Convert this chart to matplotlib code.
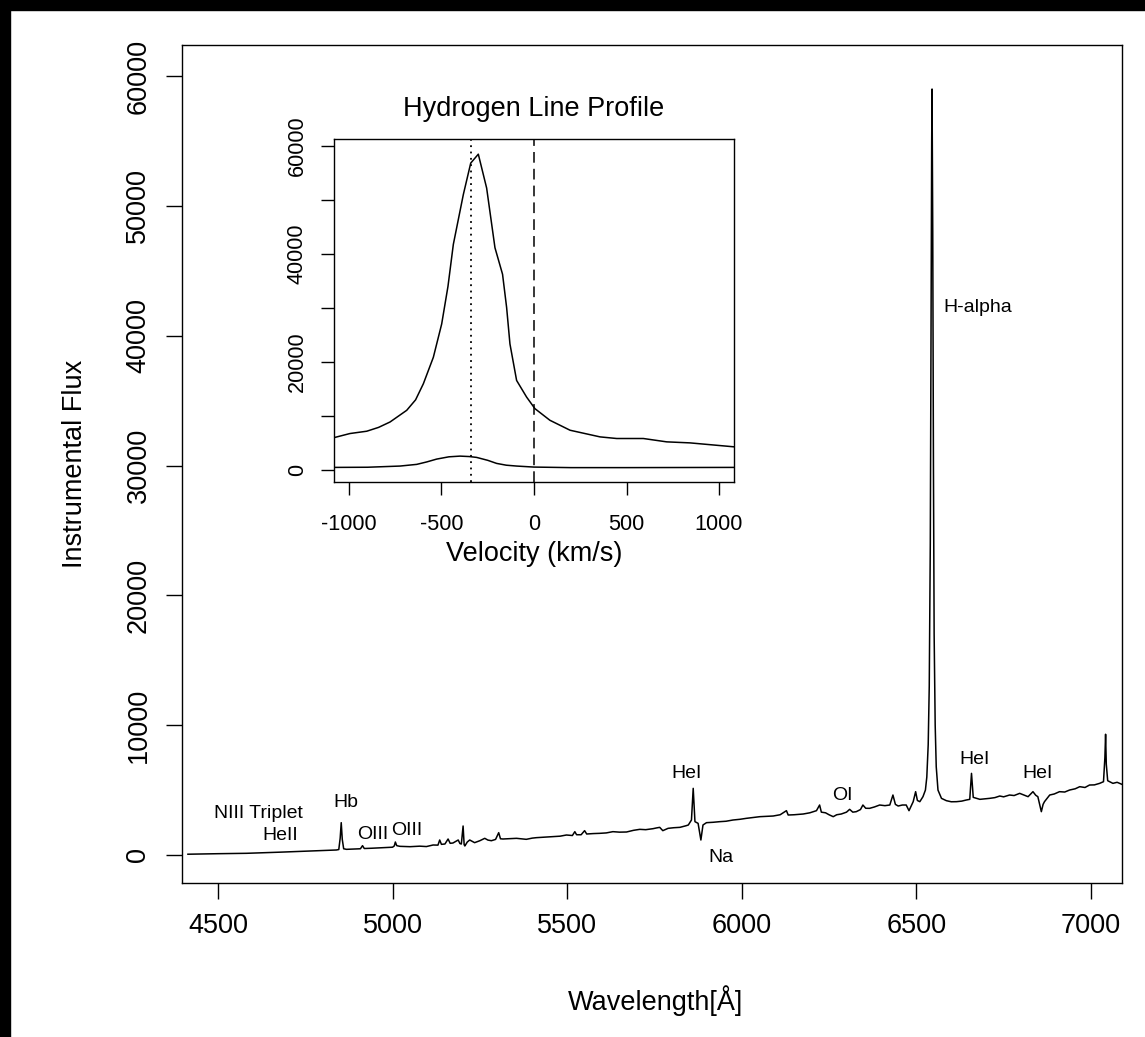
import matplotlib
matplotlib.use("Agg")
import matplotlib.pyplot as plt
from matplotlib.patches import Rectangle

plt.rcParams['font.family'] = ['Liberation Sans', 'DejaVu Sans']
plt.rcParams['axes.unicode_minus'] = False

######################### DATOS #########################

# espectro principal (longitud de onda en A, flujo instrumental)
wave = [4414, 4450, 4500, 4550, 4582, 4630, 4680, 4730, 4773, 4810,
        4839, 4846, 4850, 4853, 4856, 4860, 4868, 4890, 4908, 4914,
        4919, 4940, 4970, 5000, 5005, 5008, 5012, 5021, 5050, 5078,
        5097, 5116, 5130, 5135, 5140, 5150, 5159, 5165, 5173, 5188,
        5193, 5197, 5202, 5205, 5207, 5214, 5221, 5235, 5250, 5264,
        5273, 5283, 5295, 5304, 5309, 5316, 5335, 5355, 5383, 5400,
        5412, 5440, 5460, 5480, 5498, 5515, 5522, 5527, 5540, 5550,
        5556, 5575, 5593, 5612, 5631, 5650, 5670, 5690, 5708, 5725,
        5746, 5755, 5765, 5774, 5789, 5805, 5823, 5840, 5847, 5856,
        5861, 5866, 5875, 5883, 5889, 5899, 5918, 5937, 5955, 5975,
        5995, 6013, 6030, 6052, 6070, 6090, 6110, 6128, 6133, 6150,
        6176, 6195, 6214, 6223, 6228, 6240, 6250, 6262, 6272, 6285,
        6300, 6309, 6318, 6328, 6340, 6347, 6355, 6366, 6380, 6395,
        6410, 6424, 6433, 6440, 6448, 6460, 6471, 6479, 6491, 6498,
        6503, 6510, 6519, 6526, 6530, 6534, 6537, 6540, 6542, 6544,
        6545, 6547, 6549, 6551, 6554, 6557, 6562, 6572, 6586, 6600,
        6615, 6630, 6643, 6653, 6658, 6663, 6682, 6695, 6710, 6725,
        6739, 6750, 6767, 6780, 6796, 6810, 6820, 6834, 6842, 6848,
        6853, 6858, 6863, 6867, 6882, 6895, 6910, 6925, 6939, 6955,
        6968, 6983, 6996, 7010, 7025, 7036, 7040, 7042, 7044, 7048,
        7063, 7075, 7089]
flux = [60, 80, 100, 120, 130, 170, 220, 270, 310, 350,
        385, 420, 1300, 2490, 1200, 480, 436, 460, 480, 719,
        500, 520, 560, 600, 700, 1001, 720, 667, 640, 680,
        650, 770, 760, 1155, 820, 847, 1232, 900, 924, 1155,
        880, 847, 2233, 800, 693, 1000, 1155, 950, 1100, 1284,
        1150, 1100, 1200, 1720, 1250, 1232, 1260, 1284, 1207, 1300,
        1335, 1380, 1412, 1450, 1540, 1500, 1797, 1560, 1560, 1874,
        1617, 1650, 1668, 1700, 1797, 1760, 1771, 1900, 1976, 1950,
        2027, 2080, 2130, 1874, 2053, 2100, 2130, 2250, 2310, 2695,
        5133, 2567, 2438, 1155, 2310, 2490, 2520, 2567, 2600, 2695,
        2750, 2823, 2880, 2952, 2980, 3003, 3100, 3414, 3080, 3100,
        3157, 3250, 3414, 3850, 3300, 3250, 3100, 2952, 3100, 3157,
        3300, 3516, 3300, 3337, 3500, 3850, 3600, 3593, 3700, 3850,
        3800, 3850, 4620, 3900, 3773, 3850, 3850, 3414, 4107, 4877,
        4200, 4107, 4492, 5000, 6000, 8500, 13000, 24000, 40000, 55000,
        59000, 48000, 30000, 17000, 10000, 6800, 5000, 4363, 4184, 4100,
        4107, 4150, 4235, 4287, 6287, 4440, 4287, 4320, 4363, 4420,
        4543, 4480, 4620, 4580, 4748, 4600, 4492, 4877, 4600, 4492,
        3900, 3337, 3900, 4107, 4620, 4700, 4877, 4850, 5005, 5100,
        5262, 5200, 5390, 5400, 5518, 5646, 7500, 9300, 7000, 5723,
        5518, 5600, 5440]

# etiquetas de lineas
line_names = ['NIII Triplet', 'HeII', 'Hb', 'OIII', 'OIII', 'HeI', 'Na',
              'OI', 'H-alpha', 'HeI', 'HeI']
line_x = [4617, 4677, 4866, 4944, 5041, 5843, 5940, 6289, 6676, 6667, 6848]
line_y = [3234, 1540, 4080, 1617, 1925, 6314, -231, 4620, 42200, 7390, 6314]

# perfil de H-alpha en velocidad (km/s)
vel_hi = [-1081, -995, -904, -840, -778, -688, -640, -598, -544, -499,
          -465, -436, -382, -342, -301, -256, -211, -170, -148, -130,
          -94, -40, 5, 86, 195, 357, 447, 591, 717, 843, 1081]
prof_hi = [6000, 6760, 7190, 7900, 8900, 11060, 13000, 15980, 20880, 27040,
           34000, 41780, 51000, 56830, 58480, 52210, 41160, 36250, 30100, 23350,
           16590, 13510, 11370, 9215, 7370, 6140, 5840, 5840, 5220, 5030, 4300]
vel_lo = [-1081, -900, -724, -634, -580, -526, -460, -400, -350, -310,
          -250, -202, -150, -94, 0, 200, 500, 1081]
prof_lo = [490, 520, 740, 1050, 1500, 2030, 2450, 2580, 2500, 2340,
           1800, 1230, 900, 740, 550, 450, 450, 490]

v_peak = -341   # linea punteada
v_rest = 0      # linea discontinua

######################### FIGURA #########################

W, H = 1145, 1037
fig = plt.figure(figsize=(W / 100, H / 100), dpi=100)

# borde negro (captura de pantalla)
fig.patches.append(Rectangle((0, 1 - 10 / H), 1, 10 / H, transform=fig.transFigure,
                             color='black', zorder=10))
fig.patches.append(Rectangle((0, 0), 10 / W, 1, transform=fig.transFigure,
                             color='black', zorder=10))

ax = fig.add_axes([182 / W, 1 - 883 / H, 940 / W, 838 / H])
ax.plot(wave, flux, color='black', lw=1.1)
ax.set_xlim(4397, 7089)
ax.set_ylim(-2157, 62390)
ax.set_xticks([4500, 5000, 5500, 6000, 6500, 7000])
ax.set_yticks(range(0, 60001, 10000))
ax.tick_params(axis='x', length=11.5, width=1, pad=10, labelsize=19.5)
ax.tick_params(axis='y', length=11.5, width=1, pad=10.5, labelsize=19.5,
               labelrotation=90)
for lbl in ax.get_yticklabels():
    lbl.set_va('center')
for s in ax.spines.values():
    s.set_linewidth(1)

for name, x, y in zip(line_names, line_x, line_y):
    ax.text(x, y, name, ha='center', va='center', fontsize=14)

fig.text(655 / W, 1 - 1010 / H, 'Wavelength[Å]', ha='center', va='baseline',
         fontsize=19.5)
fig.text(75 / W, 1 - 464 / H, 'Instrumental Flux', ha='center', va='center',
         rotation=90, fontsize=19.5)

# recuadro
ins = fig.add_axes([334 / W, 1 - 482 / H, 400 / W, 343 / H])
ins.plot(vel_hi, prof_hi, color='black', lw=1.1)
ins.plot(vel_lo, prof_lo, color='black', lw=1.1)
ins.axvline(v_peak, color='black', lw=1.3, linestyle=(0, (1, 2.5)))
ins.axvline(v_rest, color='black', lw=1.1, linestyle=(0, (7, 4)))
ins.set_xlim(-1081, 1081)
ins.set_ylim(-2212, 61290)
ins.set_xticks([-1000, -500, 0, 500, 1000])
ins.set_yticks(range(0, 60001, 10000))
ins.set_yticklabels(['0', '', '20000', '', '40000', '', '60000'])
ins.tick_params(axis='x', length=9.4, width=1, pad=13.5, labelsize=15.6)
ins.tick_params(axis='y', length=9.4, width=1, pad=9.5, labelsize=15.6,
                labelrotation=90)
for lbl in ins.get_yticklabels():
    lbl.set_va('center')
for s in ins.spines.values():
    s.set_linewidth(1)
ins.set_title('Hydrogen Line Profile', fontsize=19.5, pad=16.6)
ins.text(0.5, (482 - 561) / 343, 'Velocity (km/s)', transform=ins.transAxes,
         ha='center', va='baseline', fontsize=19.5)

plt.savefig('out.png', dpi=100)
